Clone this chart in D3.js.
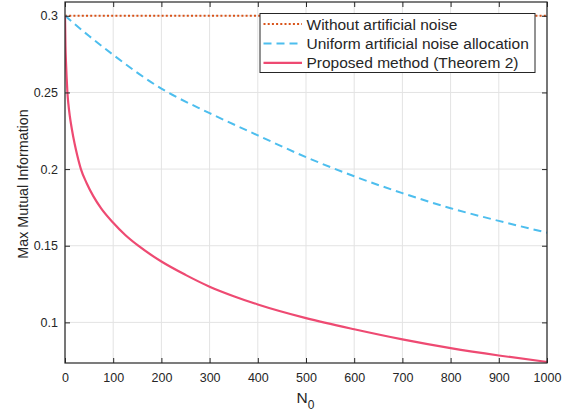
<!DOCTYPE html>
<html><head><meta charset="utf-8">
<script src="https://cdn.jsdelivr.net/npm/d3@7"></script>
<style>
body{margin:0;background:#fff;}
text{font-family:"Liberation Sans",Arial,Helvetica,sans-serif;fill:#262626;}
</style></head>
<body><svg id="c" width="576" height="415"></svg>
<script>
const xTicks = [0,100,200,300,400,500,600,700,800,900,1000];
const yTicks = [0.1,0.15,0.2,0.25,0.3];
const yTickLabels = ["0.1","0.15","0.2","0.25","0.3"];
const seriesNames = ["Without artificial noise","Uniform artificial noise allocation","Proposed method (Theorem 2)"];

const noiseFreeN = [0,1000];
const noiseFreeV = [0.3,0.3];

const uniformN = [0,50,100,200,300,400,500,600,700,800,900,1000];
const uniformV = [0.3,0.2868,0.2745,0.2525,0.2365,0.222,0.2078,0.1953,0.1843,0.1745,0.1662,0.1585];

const proposedN = [0,1,2,3.5,5,7,10,14,20,25,33,45,59,75,100,125,152,200,250,300,350,400,500,600,700,800,900,1000];
const proposedV = [0.3,0.28,0.27,0.259,0.25,0.2425,0.2345,0.2265,0.2165,0.2095,0.2,0.1908,0.1822,0.1744,0.165,0.157,0.15,0.1397,0.131,0.1233,0.1171,0.1117,0.1028,0.0955,0.0889,0.0832,0.0784,0.0742];

const svg = d3.select("#c");
const L=65, R=547, T=2, B=363;
const x = d3.scaleLinear().domain([0,1000]).range([L,R]);
const y = d3.scaleLinear().domain([0.0735,0.309]).range([B,T]);
const axisCol = "#262626";

// grid
const g = svg.append("g");
g.selectAll(".gx").data(xTicks).enter().append("line")
 .attr("x1",d=>x(d)).attr("x2",d=>x(d)).attr("y1",T).attr("y2",B)
 .attr("stroke","#e3e3e3").attr("stroke-width",1);
g.selectAll(".gy").data(yTicks).enter().append("line")
 .attr("x1",L).attr("x2",R).attr("y1",d=>y(d)).attr("y2",d=>y(d))
 .attr("stroke","#e3e3e3").attr("stroke-width",1);

// curves
const line = d3.line().x(d=>x(d[0])).y(d=>y(d[1]));
svg.append("clipPath").attr("id","cp").append("rect").attr("x",L).attr("y",T-2).attr("width",R-L+2).attr("height",B-T+4);
const curves = svg.append("g").attr("clip-path","url(#cp)");
curves.append("path").datum(noiseFreeN.map((n,i)=>[n,noiseFreeV[i]]))
 .attr("d",line).attr("fill","none").attr("stroke","#D95319").attr("stroke-width",2).attr("stroke-dasharray","2,2.2");
curves.append("path").datum(uniformN.map((n,i)=>[n,uniformV[i]]))
 .attr("d",line.curve(d3.curveMonotoneX)).attr("fill","none").attr("stroke","#4DBEEE").attr("stroke-width",2).attr("stroke-dasharray","8,5");
curves.append("path").datum(proposedN.map((n,i)=>[n,proposedV[i]]))
 .attr("d",line.curve(d3.curveMonotoneX)).attr("fill","none").attr("stroke","#EE4A72").attr("stroke-width",2.2);

// axes
const xa = svg.append("g").attr("transform",`translate(0,${B})`)
 .call(d3.axisBottom(x).tickValues(xTicks).tickSize(-5).tickPadding(10).tickFormat(d3.format("d")));
const xt = svg.append("g").attr("transform",`translate(0,${T})`)
 .call(d3.axisTop(x).tickValues(xTicks).tickSize(-5).tickFormat(""));
const ya = svg.append("g").attr("transform",`translate(${L},0)`)
 .call(d3.axisLeft(y).tickValues(yTicks).tickSize(-5).tickPadding(7).tickFormat((d,i)=>yTickLabels[i]));
const yr = svg.append("g").attr("transform",`translate(${R},0)`)
 .call(d3.axisRight(y).tickValues(yTicks).tickSize(-5).tickFormat(""));
[xa,xt,ya,yr].forEach(a=>{
  a.select(".domain").attr("stroke",axisCol).attr("stroke-width",1.2).attr("d",null);
  a.selectAll(".tick line").attr("stroke",axisCol);
  a.selectAll("text").style("font-size","12.5px").attr("fill",axisCol);
});
svg.append("rect").attr("x",L).attr("y",T).attr("width",R-L).attr("height",B-T)
 .attr("fill","none").attr("stroke",axisCol).attr("stroke-width",1.2);

// axis labels
const xl = svg.append("text").attr("x",296.5).attr("y",402.7).style("font-size","15.5px");
xl.append("tspan").text("N");
xl.append("tspan").attr("dy",6).style("font-size","12px").text("0");
svg.append("text").attr("transform",`translate(28,184) rotate(-90)`)
 .attr("text-anchor","middle").style("font-size","14.3px").text("Max Mutual Information");

// legend
const lg = svg.append("g");
lg.append("rect").attr("x",260).attr("y",13.5).attr("width",275).attr("height",59)
 .attr("fill","#fff").attr("stroke",axisCol).attr("stroke-width",1);
const styles = [
 {c:"#D95319",da:"2,2.2",w:2},
 {c:"#4DBEEE",da:"8,5",w:2},
 {c:"#EE4A72",da:null,w:2.2}];
seriesNames.forEach((s,i)=>{
  const yy = 24 + i*19.4;
  lg.append("line").attr("x1",263.5).attr("x2",302).attr("y1",yy).attr("y2",yy)
   .attr("stroke",styles[i].c).attr("stroke-width",styles[i].w).attr("stroke-dasharray",styles[i].da);
  lg.append("text").attr("x",306.5).attr("y",yy+5.5).style("font-size","15.5px").text(s);
});
</script></body></html>
